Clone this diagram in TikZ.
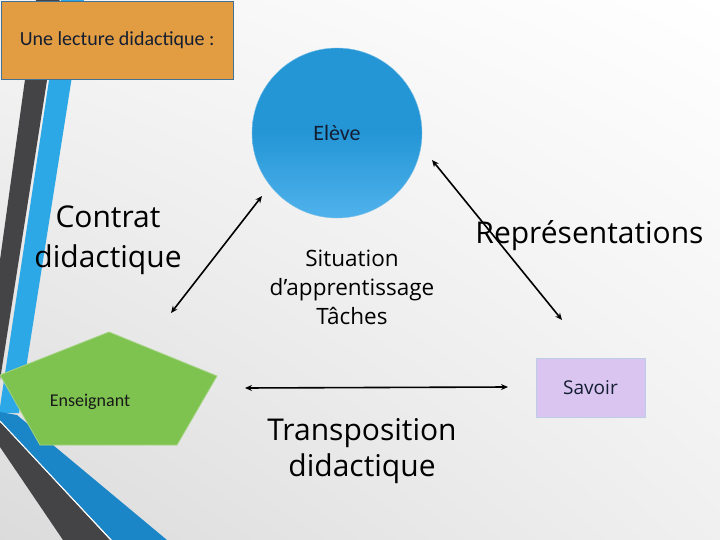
\documentclass[tikz,border=0pt]{standalone}
\usepackage{fontspec}
\setmainfont{Carlito}
\newfontfamily\osans{Open Sans}
\usetikzlibrary{arrows.meta,shadings}
\definecolor{orangebox}{RGB}{226,157,66}
\definecolor{orangeedge}{RGB}{65,113,150}
\definecolor{bluecirc}{RGB}{36,150,214}
\definecolor{bluecircl}{RGB}{80,178,236}
\definecolor{greenpent}{RGB}{126,194,80}
\definecolor{lav}{RGB}{218,196,240}
\definecolor{lavedge}{RGB}{190,205,230}
\definecolor{darkstripe}{RGB}{68,68,70}
\definecolor{bluestripe}{RGB}{45,168,230}
\definecolor{bluestripe2}{RGB}{26,134,200}
\definecolor{navytext}{RGB}{20,30,50}
\tikzset{
  conn/.style={draw=black, line width=1.6pt, {Stealth[length=7pt,width=6pt]}-{Stealth[length=7pt,width=6pt]}},
  bigtxt/.style={font=\osans\fontsize{30}{40}\selectfont, align=center, inner sep=0pt},
}
\begin{document}
\begin{tikzpicture}[x=1pt,y=-1pt]
\useasboundingbox (0,0) rectangle (720,540);
% background
\shade[upper left=gray!8, upper right=white, lower left=gray!28, lower right=gray!12] (0,0) rectangle (720,540);
% stripes
\fill[darkstripe] (36,0) -- (59.6,0) -- (0,380) -- (0,260) -- cycle;
\fill[bluestripe] (61,0) -- (84,0) -- (19,413) -- (0,413) -- (0,407) -- cycle;
\fill[bluestripe2] (0,412) -- (17,415) -- (167,540) -- (112,540) -- (0,421) -- cycle;
\fill[darkstripe] (0,422) -- (110,540) -- (63,540) -- (0,447) -- cycle;
\draw[white, line width=1pt] (0,421) -- (111,540);
% title box
\node[draw=orangeedge, line width=1.2pt, fill=orangebox, minimum width=232pt, minimum height=78pt, anchor=north west, inner sep=0pt, font=\fontsize{20}{24}\selectfont, text=navytext] (title) at (0.6,0.6) {Une lecture didactique :};
% circle
\shade[top color=bluecirc, bottom color=bluecircl, middle color=bluecirc] (337,133) circle (85);
\node[circle, minimum size=170pt, draw=bluecirc!60, line width=0.4pt, font=\fontsize{22}{26}\selectfont, text=navytext] (eleve) at (337,133) {Elève};
% pentagon
\filldraw[fill=greenpent, draw=greenpent!70!white, line width=0.8pt] (109,332) -- (217,376) -- (177,445) -- (40,445) -- (0,375) -- cycle;
\node[font=\fontsize{18}{22}\selectfont, text=black!90] (ens) at (90,402) {Enseignant};
% savoir
\node[draw=lavedge, line width=1pt, fill=lav, minimum width=109pt, minimum height=59pt, inner sep=0pt, font=\osans\fontsize{19}{22}\selectfont, text=navytext] (savoir) at (590.5,387.5) {Savoir};
% texts
\node[bigtxt] (contrat) at (108,240) {Contrat\\didactique};
\node[bigtxt] (repr) at (589.5,236) {Représentations};
\node[font=\osans\fontsize{22.5}{29}\selectfont, align=center, inner sep=0pt] (sit) at (352,287) {Situation\\d’apprentissage\\Tâches};
\node[font=\osans\fontsize{30}{36}\selectfont, align=center, inner sep=0pt] (transp) at (362,451) {Transposition\\didactique};
% connectors
\coordinate (a1) at (262,196);
\coordinate (a2) at (171,313);
\coordinate (b1) at (432,160);
\coordinate (b2) at (562,320);
\coordinate (c1) at (245,388);
\coordinate (c2) at (508,387);
\draw[conn] (a1) -- (a2);
\draw[conn] (b1) -- (b2);
\draw[conn] (c1) -- (c2);
\end{tikzpicture}
\end{document}
